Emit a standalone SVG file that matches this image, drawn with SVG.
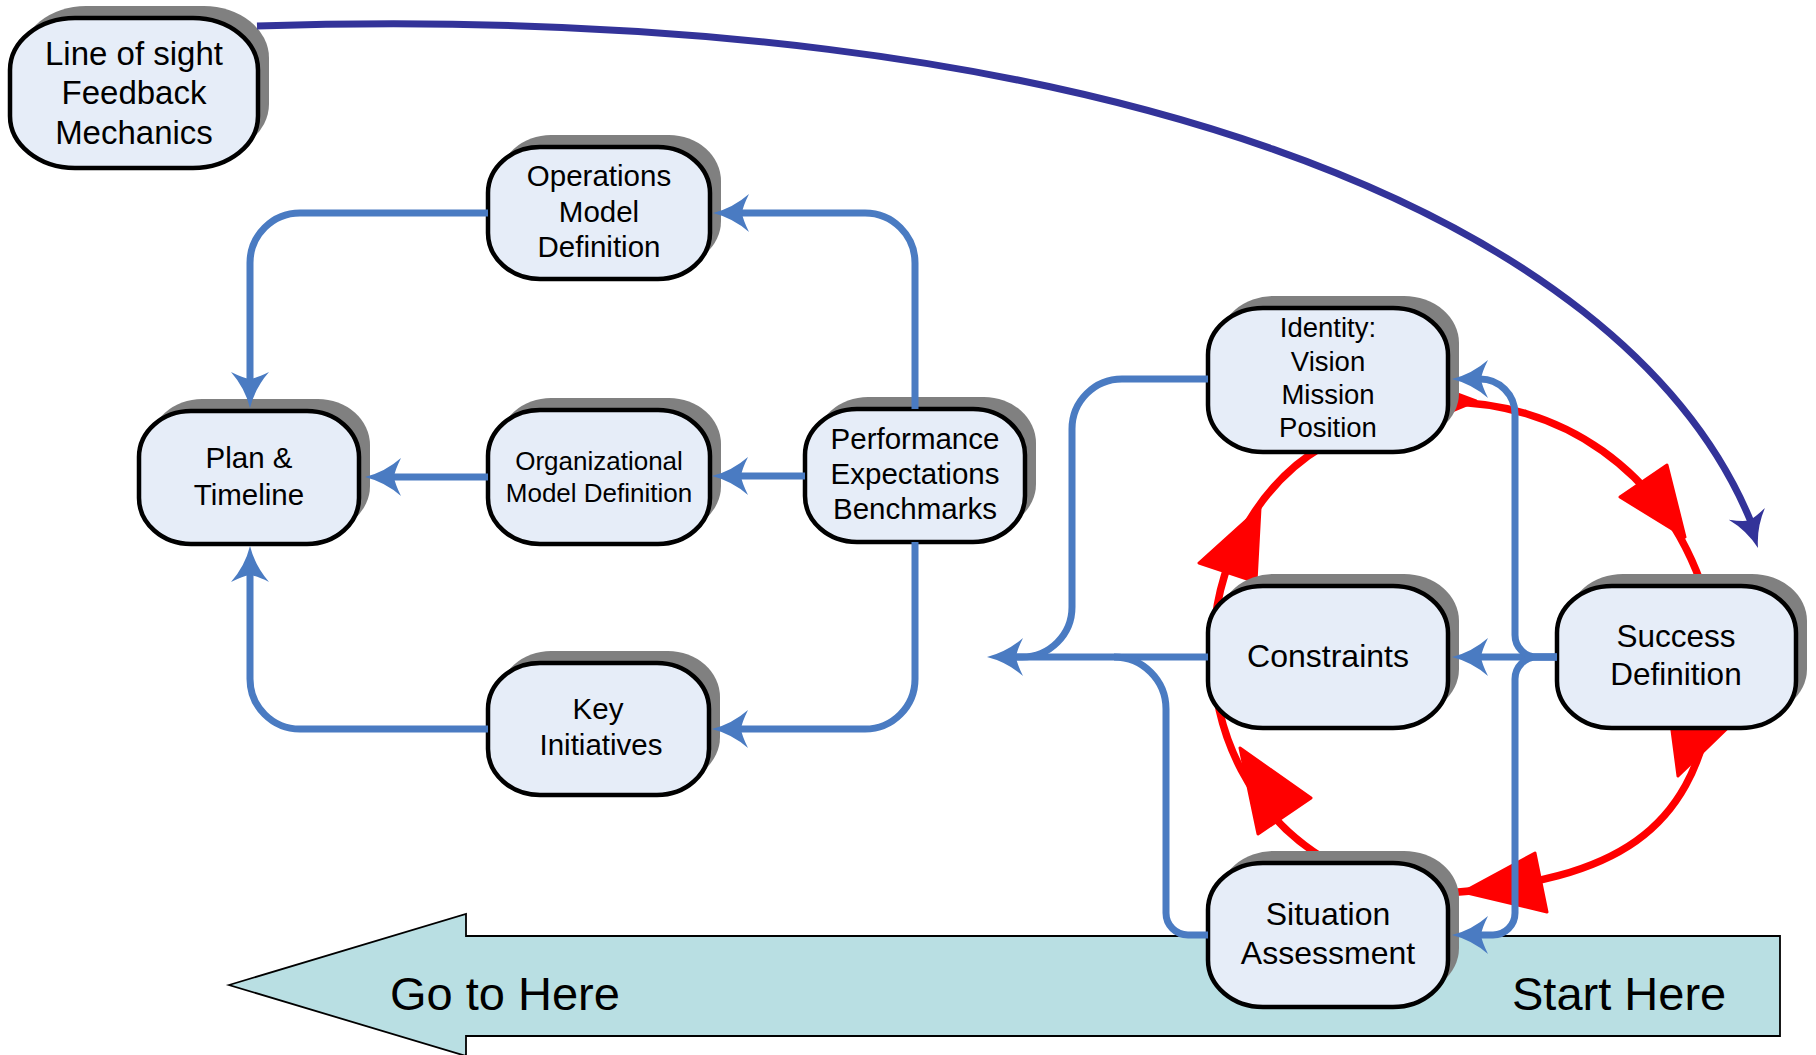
<svg xmlns="http://www.w3.org/2000/svg" xmlns:xlink="http://www.w3.org/1999/xlink" width="1816" height="1055" viewBox="0 0 1816 1055">
<style>
  .sh { fill: #808080; }
  .bx { fill: #e6edf8; stroke: #000; stroke-width: 4.5; }
  text { font-family: "Liberation Sans", Arial, sans-serif; fill: #000; text-anchor: middle; }
  .conn { fill: none; stroke: #4a7bc2; stroke-width: 7; }
  .ahb { fill: #4a7bc2; }
  .red { fill: none; stroke: #ff0000; stroke-width: 7.5; }
  .redh { fill: #ff0000; stroke: #ff0000; stroke-width: 3; stroke-linejoin: round; }
  .dk { fill: none; stroke: #333399; stroke-width: 7; }
  .ahd { fill: #333399; }
</style>
<defs>
  <path id="ah" d="M0,0 Q-20,-5 -36,-19 Q-30,-7 -29,0 Q-30,7 -36,19 Q-20,5 0,0 Z"/>
</defs>
<rect width="1816" height="1055" fill="#fff"/>

<g id="big-arrow">
  <polygon points="229,985 466,914 466,936 1780,936 1780,1036 466,1036 466,1056" fill="#b9dfe3" stroke="#000" stroke-width="1.8"/>
  <text x="390" y="1010" font-size="47" style="text-anchor:start">Go to Here</text>
  <text x="1512" y="1010" font-size="47" style="text-anchor:start">Start Here</text>
</g>

<g id="connectors-red">
  <path class="red" d="M1440,402 C1560,400 1665,470 1705,595"/>
  <polygon class="redh" points="1476,401 1420,380 1418,425"/>
  <polygon class="redh" points="1685,537 1620,497 1667,465"/>
  <path class="red" d="M1712,705 C1690,830 1620,880 1447,893"/>
  <polygon class="redh" points="1678,776 1668,700 1742,714"/>
  <polygon class="redh" points="1463,892 1535,853 1547,912"/>
  <path class="red" d="M1330,862 C1170,770 1180,530 1325,445"/>
  <polygon class="redh" points="1240,748 1311,798 1258,834"/>
  <polygon class="redh" points="1260,508 1199,563 1256,582"/>
</g>

<g id="node-los">
  <rect class="sh" x="21" y="6" width="248" height="150" rx="65" ry="52"/>
  <rect class="bx" x="10" y="18" width="248" height="150" rx="65" ry="52"/>
  <text font-size="33"><tspan x="134" y="65">Line of sight</tspan><tspan x="134" y="104">Feedback</tspan><tspan x="134" y="144">Mechanics</tspan></text>
</g>
<g id="node-operations">
  <rect class="sh" x="499" y="135" width="222" height="132" rx="52" ry="46"/>
  <rect class="bx" x="488" y="147" width="222" height="132" rx="52" ry="46"/>
  <text font-size="29.5"><tspan x="599" y="186">Operations</tspan><tspan x="599" y="222">Model</tspan><tspan x="599" y="257">Definition</tspan></text>
</g>
<g id="node-plan">
  <rect class="sh" x="150" y="399" width="220" height="133" rx="52" ry="46"/>
  <rect class="bx" x="139" y="411" width="220" height="133" rx="52" ry="46"/>
  <text font-size="29.5"><tspan x="249" y="468">Plan &amp;</tspan><tspan x="249" y="505">Timeline</tspan></text>
</g>
<g id="node-org">
  <rect class="sh" x="499" y="398" width="222" height="134" rx="52" ry="46"/>
  <rect class="bx" x="488" y="410" width="222" height="134" rx="52" ry="46"/>
  <text font-size="26"><tspan x="599" y="470">Organizational</tspan><tspan x="599" y="502">Model Definition</tspan></text>
</g>
<g id="node-performance">
  <rect class="sh" x="816" y="397" width="220" height="133" rx="52" ry="46"/>
  <rect class="bx" x="805" y="409" width="220" height="133" rx="52" ry="46"/>
  <text font-size="29.5"><tspan x="915" y="449">Performance</tspan><tspan x="915" y="484">Expectations</tspan><tspan x="915" y="519">Benchmarks</tspan></text>
</g>
<g id="node-key">
  <rect class="sh" x="499" y="651" width="221" height="132" rx="52" ry="46"/>
  <rect class="bx" x="488" y="663" width="221" height="132" rx="52" ry="46"/>
  <text font-size="29.5"><tspan x="598" y="719">Key</tspan><tspan x="601" y="755">Initiatives</tspan></text>
</g>
<g id="node-identity">
  <rect class="sh" x="1219" y="296" width="240" height="144" rx="55" ry="47"/>
  <rect class="bx" x="1208" y="308" width="240" height="144" rx="55" ry="47"/>
  <text font-size="27.5"><tspan x="1328" y="337">Identity:</tspan><tspan x="1328" y="371">Vision</tspan><tspan x="1328" y="404">Mission</tspan><tspan x="1328" y="437">Position</tspan></text>
</g>
<g id="node-constraints">
  <rect class="sh" x="1219" y="574" width="240" height="142" rx="55" ry="47"/>
  <rect class="bx" x="1208" y="586" width="240" height="142" rx="55" ry="47"/>
  <text font-size="32" x="1328" y="667">Constraints</text>
</g>
<g id="node-success">
  <rect class="sh" x="1568" y="574" width="239" height="142" rx="55" ry="47"/>
  <rect class="bx" x="1557" y="586" width="239" height="142" rx="55" ry="47"/>
  <text font-size="31.5"><tspan x="1676" y="647">Success</tspan><tspan x="1676" y="685">Definition</tspan></text>
</g>
<g id="node-situation">
  <rect class="sh" x="1219" y="851" width="240" height="144" rx="55" ry="47"/>
  <rect class="bx" x="1208" y="863" width="240" height="144" rx="55" ry="47"/>
  <text font-size="32"><tspan x="1328" y="925">Situation</tspan><tspan x="1328" y="964">Assessment</tspan></text>
</g>

<g id="connectors">
  <path class="conn" d="M915,409 V263 A50,50 0 0 0 865,213 H739"/>
  <use xlink:href="#ah" class="ahb" transform="translate(713,213) rotate(180)"/>
  <path class="conn" d="M488,213 H300 A50,50 0 0 0 250,263 V382"/>
  <use xlink:href="#ah" class="ahb" transform="translate(250,408) rotate(90)"/>
  <path class="conn" d="M488,477 H391"/>
  <use xlink:href="#ah" class="ahb" transform="translate(365,477) rotate(180)"/>
  <path class="conn" d="M805,476 H738"/>
  <use xlink:href="#ah" class="ahb" transform="translate(712,476) rotate(180)"/>
  <path class="conn" d="M915,542 V679 A50,50 0 0 1 865,729 H738"/>
  <use xlink:href="#ah" class="ahb" transform="translate(712,729) rotate(180)"/>
  <path class="conn" d="M488,729 H300 A50,50 0 0 1 250,679 V572"/>
  <use xlink:href="#ah" class="ahb" transform="translate(250,546) rotate(-90)"/>

  <path class="conn" d="M1208,379 H1122 A50,50 0 0 0 1072,429 V607 A50,50 0 0 1 1022,657 H1013"/>
  <path class="conn" d="M1208,657 H1013"/>
  <path class="conn" d="M1208,935 H1188 A22,22 0 0 1 1166,913 V709 A52,52 0 0 0 1114,657"/>
  <use xlink:href="#ah" class="ahb" transform="translate(987,657) rotate(180)"/>
  <path class="conn" d="M1557,657 H1478"/>
  <use xlink:href="#ah" class="ahb" transform="translate(1452,657) rotate(180)"/>
  <path class="conn" d="M1557,657 H1537 A22,22 0 0 1 1515,635 V414 A35,35 0 0 0 1480,379 H1478"/>
  <use xlink:href="#ah" class="ahb" transform="translate(1452,379) rotate(180)"/>
  <path class="conn" d="M1557,657 H1537 A22,22 0 0 0 1515,679 V913 A22,22 0 0 1 1493,935 H1478"/>
  <use xlink:href="#ah" class="ahb" transform="translate(1452,935) rotate(180)"/>

  <path class="dk" d="M257,26 C1100,0 1625,215 1751,522"/>
  <use xlink:href="#ah" class="ahd" transform="translate(1758,548) rotate(72)"/>
</g>
</svg>
